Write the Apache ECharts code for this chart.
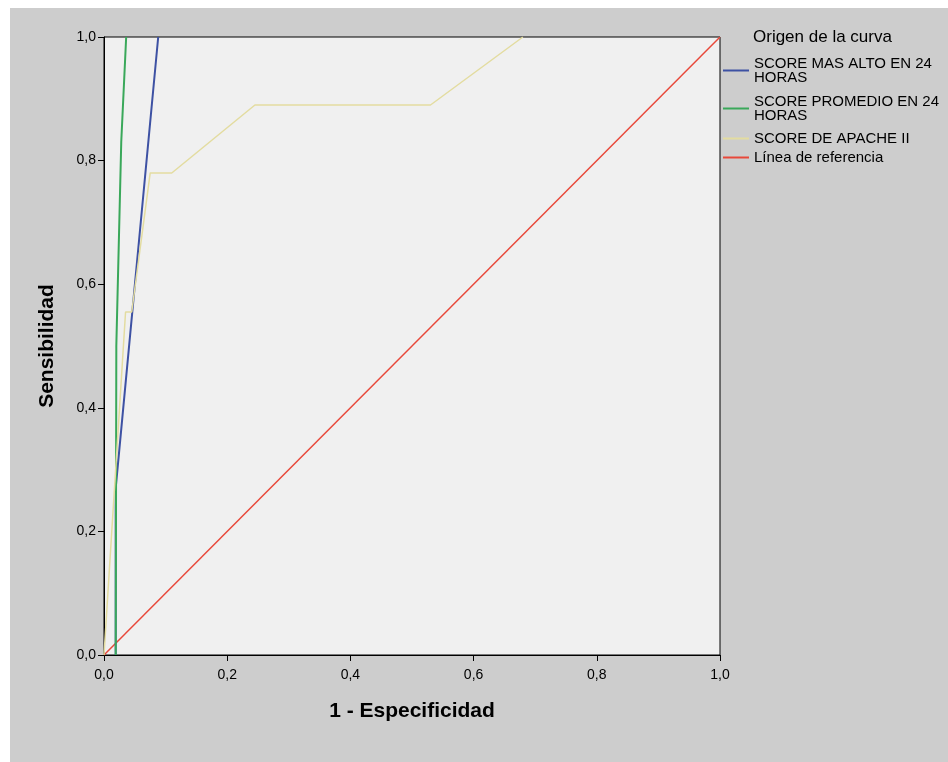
<!DOCTYPE html>
<html>
<head>
<meta charset="utf-8">
<script src="https://cdn.jsdelivr.net/npm/echarts@6/dist/echarts.min.js"></script>
<style>
html,body{margin:0;padding:0;background:#ffffff;}
#wrap{position:absolute;left:10px;top:8px;width:938px;height:754px;}
</style>
</head>
<body>
<div id="wrap"></div>
<script>
// ---- data ----
const tickLabels = ['0,0', '0,2', '0,4', '0,6', '0,8', '1,0'];
const legendTitle = 'Origen de la curva';
const seriesNames = ['SCORE MAS ALTO EN 24 HORAS', 'SCORE PROMEDIO EN 24 HORAS', 'SCORE DE APACHE II', 'Línea de referencia'];
const legendLabels = ['SCORE MAS ALTO EN 24\nHORAS', 'SCORE PROMEDIO EN 24\nHORAS', 'SCORE DE APACHE II', 'Línea de referencia'];
// 1 - specificity (x) and sensitivity (y)
const masAltoFpr = [0.019, 0.019, 0.088];
const masAltoTpr = [0.0, 0.27, 1.0];
const promedioFpr = [0.019, 0.020, 0.028, 0.036];
const promedioTpr = [0.0, 0.50, 0.83, 1.0];
const apacheFpr = [0.0, 0.035, 0.045, 0.075, 0.11, 0.245, 0.53, 0.68];
const apacheTpr = [0.0, 0.555, 0.555, 0.78, 0.78, 0.89, 0.89, 1.0];
const refFpr = [0.0, 1.0];
const refTpr = [0.0, 1.0];

const colors = ['#3d51a3', '#3aa85a', '#e3dca0', '#e8483a'];
const widths = [2, 2, 1.5, 1.5];

function pairs(xs, ys) { return xs.map((x, i) => [x, ys[i]]); }
const seriesData = [
  pairs(masAltoFpr, masAltoTpr),
  pairs(promedioFpr, promedioTpr),
  pairs(apacheFpr, apacheTpr),
  pairs(refFpr, refTpr)
];
const labelFor = v => tickLabels[Math.round(v / 0.2)] ?? '';

const chart = echarts.init(document.getElementById('wrap'), null, {renderer: 'canvas'});

const legendTops = [48, 86, 123, 142];
const legends = seriesNames.map((n, i) => ({
  data: [n],
  orient: 'vertical',
  left: 713,
  top: legendTops[i],
  padding: 0,
  icon: 'rect',
  itemWidth: 26,
  itemHeight: 2,
  selectedMode: false,
  formatter: name => legendLabels[seriesNames.indexOf(name)],
  textStyle: {fontFamily: 'Liberation Sans', fontSize: 15, color: '#000', lineHeight: 14}
}));

const axisCommon = {
  type: 'value', min: 0, max: 1, interval: 0.2,
  splitLine: {show: false},
  axisLine: {show: true, onZero: false, lineStyle: {color: '#000', width: 1}},
  axisTick: {show: true, inside: false, length: 6, lineStyle: {color: '#000'}},
  axisLabel: {formatter: labelFor, color: '#000', fontFamily: 'Liberation Sans', fontSize: 14},
  nameLocation: 'middle',
  nameTextStyle: {fontFamily: 'Liberation Sans', fontWeight: 'bold', fontSize: 21, color: '#000'}
};

chart.setOption({
  backgroundColor: '#cdcdcd',
  animation: false,
  title: {
    text: legendTitle, left: 743, top: 21, padding: 0,
    textStyle: {fontFamily: 'Liberation Sans', fontWeight: 'normal', fontSize: 17, color: '#000'}
  },
  legend: legends,
  grid: {
    left: 94, top: 29, width: 616, height: 618,
    show: true, backgroundColor: '#f0f0f0', borderColor: '#000', borderWidth: 1
  },
  xAxis: Object.assign({}, axisCommon, {
    name: '1 - Especificidad', nameGap: 46,
    axisLabel: Object.assign({}, axisCommon.axisLabel, {margin: 13})
  }),
  yAxis: Object.assign({}, axisCommon, {
    name: 'Sensibilidad', nameGap: 46,
    axisLabel: Object.assign({}, axisCommon.axisLabel, {margin: 8})
  }),
  series: seriesNames.map((n, i) => ({
    name: n, type: 'line', data: seriesData[i],
    showSymbol: false, symbol: 'none',
    lineStyle: {color: colors[i], width: widths[i]},
    itemStyle: {color: colors[i]},
    z: i === 3 ? 1 : 2 + i
  }))
});
</script>
</body>
</html>
